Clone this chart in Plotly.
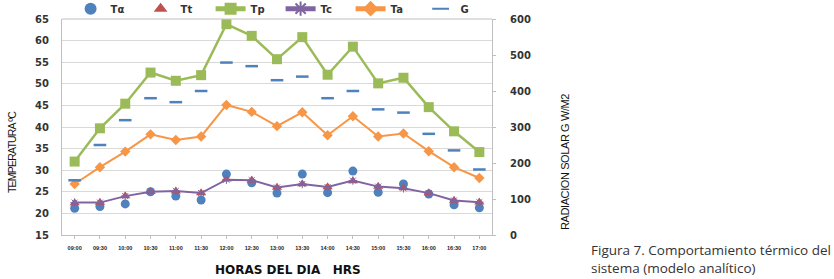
import plotly.graph_objects as go

hours = ["09:00", "09:30", "10:00", "10:30", "11:00", "11:30", "12:00", "12:30", "13:00",
         "13:30", "14:00", "14:30", "15:00", "15:30", "16:00", "16:30", "17:00"]
t_alpha = [21.2, 21.6, 22.2, 25.0, 24.0, 23.1, 29.1, 27.1, 24.7, 29.1, 24.8, 29.8, 24.9, 26.8, 24.5, 22.0, 21.3]
t_t = [22.4, 22.5, 24.0, 25.0, 25.1, 24.7, 27.9, 27.7, 26.0, 26.8, 26.1, 27.5, 26.2, 25.9, 24.7, 23.0, 22.6]
t_p = [32.0, 39.7, 45.4, 52.6, 50.7, 52.0, 63.8, 61.1, 55.7, 60.8, 52.1, 58.6, 50.1, 51.4, 44.6, 39.0, 34.2]
t_c = [22.5, 22.5, 24.0, 25.0, 25.2, 24.7, 27.8, 27.7, 26.0, 26.8, 26.1, 27.6, 26.2, 25.8, 24.7, 23.0, 22.6]
t_a = [26.8, 30.7, 34.3, 38.3, 37.0, 37.8, 45.1, 43.5, 40.2, 43.4, 38.1, 42.5, 37.8, 38.5, 34.4, 30.7, 28.2]
g_rad = [152, 250, 319, 380, 369, 400, 479, 469, 430, 440, 380, 400, 349, 340, 281, 235, 182]

fig = go.Figure()
fig.add_trace(go.Scatter(x=hours, y=t_alpha, name="T\u03b1", mode="markers",
                         marker=dict(symbol="circle", size=9, color="#4F81BD")))
fig.add_trace(go.Scatter(x=hours, y=t_t, name="Tt", mode="markers",
                         marker=dict(symbol="triangle-up", size=9, color="#C0504D")))
fig.add_trace(go.Scatter(x=hours, y=t_p, name="Tp", mode="lines+markers",
                         line=dict(color="#9BBB59", width=2.5),
                         marker=dict(symbol="square", size=10, color="#9BBB59")))
fig.add_trace(go.Scatter(x=hours, y=t_c, name="Tc", mode="lines+markers",
                         line=dict(color="#8064A2", width=2),
                         marker=dict(symbol="asterisk-open", size=7, color="#8064A2",
                                     line=dict(color="#8064A2", width=1))))
fig.add_trace(go.Scatter(x=hours, y=t_a, name="Ta", mode="lines+markers",
                         line=dict(color="#F79646", width=2),
                         marker=dict(symbol="diamond", size=8, color="#F79646")))
fig.add_trace(go.Scatter(x=hours, y=g_rad, name="G", mode="markers", yaxis="y2",
                         marker=dict(symbol="line-ew-open", size=9, color="#4F81BD",
                                     line=dict(color="#4F81BD", width=2.5))))

tick_font = dict(family="DejaVu Sans", size=10, color="#333333", weight="bold")
title_font = dict(family="Liberation Sans", size=11, color="#111111")

fig.update_layout(
    width=834, height=279,
    margin=dict(l=62, r=342, t=19, b=44, autoexpand=False),
    paper_bgcolor="white", plot_bgcolor="white",
    showlegend=True,
    legend=dict(orientation="h", x=0.02, y=1.115, xanchor="left", yanchor="top",
                font=dict(family="DejaVu Sans", size=10, color="#333333", weight="bold"),
                entrywidth=25, entrywidthmode="pixels", bgcolor="rgba(0,0,0,0)",
                itemsizing="constant"),
    xaxis=dict(type="category", range=[-0.5, 16.5], showgrid=False, showline=True,
               linecolor="#bfbfbf", ticks="outside", ticklen=3, tickcolor="#bfbfbf",
               tickfont=dict(family="Liberation Sans", size=5.5, color="#222222", weight="bold"),
               ticklabelstandoff=4, mirror=False, zeroline=False),
    yaxis=dict(range=[15, 65], dtick=5, showgrid=True, gridcolor="#d9d9d9", gridwidth=1,
               showline=True, linecolor="#bfbfbf", ticks="", tickfont=tick_font,
               ticklabelstandoff=10, zeroline=False),
    yaxis2=dict(range=[0, 600], dtick=100, overlaying="y", side="right", showgrid=False,
                showline=True, linecolor="#bfbfbf", ticks="outside", ticklen=3,
                tickcolor="#bfbfbf", tickfont=tick_font, ticklabelstandoff=12,
                zeroline=False),
    shapes=[dict(type="line", xref="paper", yref="paper", x0=0, x1=1, y0=1, y1=1,
                 line=dict(color="#bfbfbf", width=1))],
    annotations=[
        dict(text='<span style="letter-spacing:-0.8px">TEMPERATURA \u00baC</span>',
             xref="paper", yref="paper",
             x=(12 - 62) / 430, y=(235 - 152) / 216, textangle=-90, showarrow=False,
             xanchor="center", yanchor="middle",
             font=dict(family="Liberation Sans", size=10.5, color="#111111")),
        dict(text='<span style="letter-spacing:-0.4px">RADIACION SOLAR G W/M2</span>',
             xref="paper", yref="paper",
             x=(565 - 62) / 430, y=(235 - 162) / 216, textangle=-90, showarrow=False,
             xanchor="center", yanchor="middle", font=title_font),
        dict(text="HORAS DEL DIA\u00a0\u00a0\u00a0HRS", xref="paper", yref="paper",
             x=(288 - 62) / 430, y=(235 - 270) / 216, showarrow=False,
             xanchor="center", yanchor="middle",
             font=dict(family="DejaVu Sans", size=12, color="#111111", weight="bold")),
        dict(text="Figura 7. Comportamiento t\u00e9rmico del<br>sistema (modelo anal\u00edtico)",
             xref="paper", yref="paper", x=(589 - 62) / 430, y=(235 - 259) / 216,
             showarrow=False, xanchor="left", yanchor="middle", align="left",
             font=dict(family="Open Sans", size=13.5, color="#333333")),
    ],
)

fig.write_html("out.html", config={"displayModeBar": False},
               post_script="document.body.style.margin='0';")
